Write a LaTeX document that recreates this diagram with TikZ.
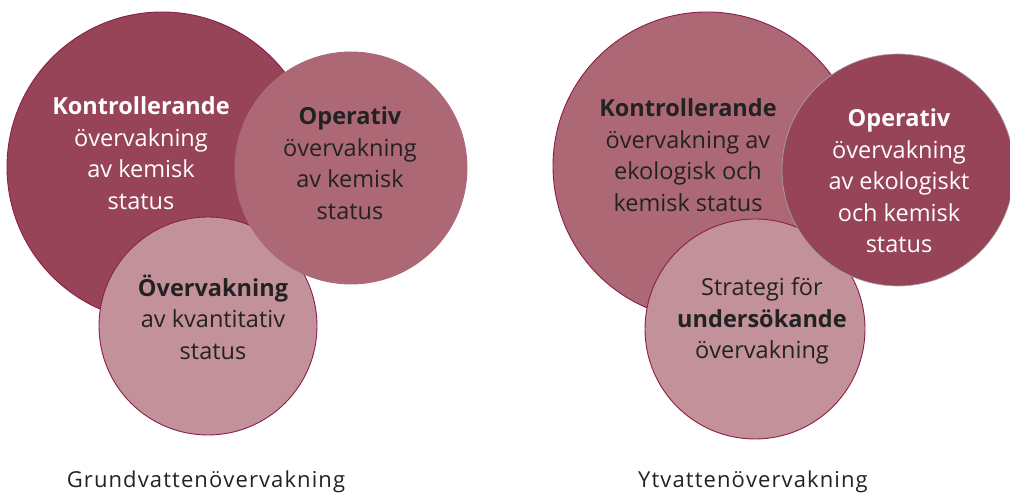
\documentclass[tikz,border=0pt]{standalone}
\usepackage{fontspec}
\setmainfont{Open Sans}
\newfontfamily\sparrad[LetterSpace=5]{Open Sans}
\definecolor{cirkelMork}{HTML}{974459}
\definecolor{cirkelMellan}{HTML}{AD6876}
\definecolor{cirkelLjus}{HTML}{C39199}
\definecolor{cirkelKant}{HTML}{8B1E4A}
\definecolor{textMork}{HTML}{222222}

\begin{document}
\begin{tikzpicture}[x=1pt, y=1pt,
    every node/.style={font=\fontsize{23.5}{31.5}\selectfont, align=center},
    kant/.style={draw=cirkelKant, line width=0.9pt},
    rubrik/.style={font=\sparrad\fontsize{22}{24}\selectfont, text=textMork, anchor=base}]
  \useasboundingbox (0,0) rectangle (1010,494);
  \clip (0,0) rectangle (1010,494);
  % grundvatten
  \filldraw[kant, fill=cirkelMork] (162,327) circle (155);
  \filldraw[kant, fill=cirkelLjus] (208,168) circle (109);
  \filldraw[kant, draw=cirkelMork!80, fill=cirkelMellan] (351,326) circle (116);
  \node[text=white] (gkontroll) at (141,341) {\textbf{Kontrollerande}\\övervakning\\av kemisk\\status};
  \node[text=textMork] (goperativ) at (350,331) {\textbf{Operativ}\\övervakning\\av kemisk\\status};
  \node[text=textMork] (gkvantitet) at (213,177) {\textbf{Övervakning}\\av kvantitativ\\status};
  \node[rubrik] (grund) at (206,6.5) {Grundvattenövervakning};
  % ytvatten
  \filldraw[kant, fill=cirkelMellan] (707,328) circle (154);
  \filldraw[kant, fill=cirkelLjus] (755,165) circle (110);
  \filldraw[draw=gray!70, line width=0.6pt, fill=cirkelMork] (898,324) circle (116);
  \node[text=textMork] (ykontroll) at (688,339) {\textbf{Kontrollerande}\\övervakning av\\ekologisk och\\kemisk status};
  \node[text=white] (yoperativ) at (899,313) {\textbf{Operativ}\\övervakning\\av ekologiskt\\och kemisk\\status};
  \node[text=textMork] (ystrategi) at (762,173) {Strategi för\\\textbf{undersökande}\\övervakning};
  \node[rubrik] (yt) at (753,6.5) {Ytvattenövervakning};
\end{tikzpicture}
\end{document}
